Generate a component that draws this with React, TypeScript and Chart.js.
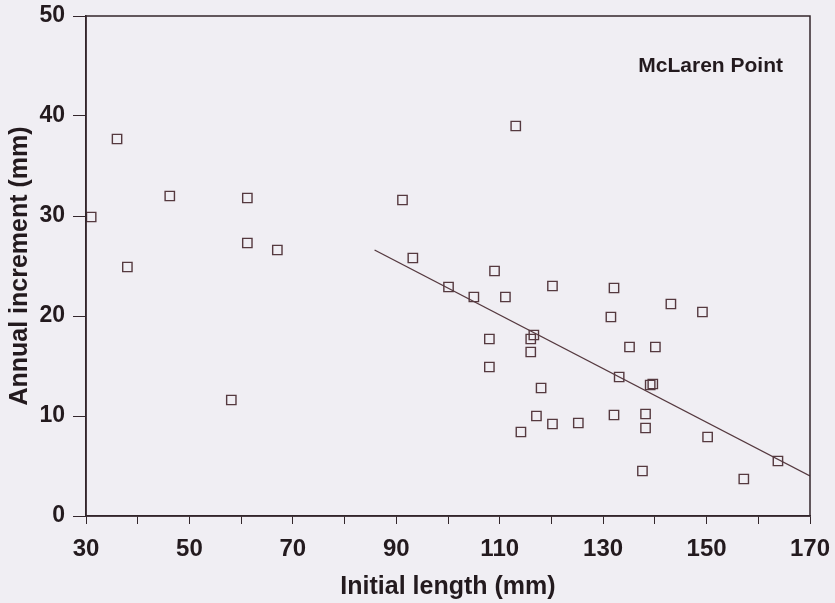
import React, { useEffect, useRef } from "react";
import { Chart, registerables } from "chart.js";

Chart.register(...registerables);

const initialLength = [
  31.0, 36.0, 38.0, 46.2, 61.2, 61.2, 67.0, 58.1, 91.2, 93.2, 113.1,
  100.1, 105.0, 111.1, 109.0, 120.2, 132.1, 131.5, 143.1, 149.2,
  108.0, 116.0, 116.6, 116.0, 108.0, 135.1, 140.1, 118.0, 133.1,
  139.1, 139.6, 117.1, 120.2, 125.2, 132.1, 138.2, 138.2, 114.1,
  150.2, 137.6, 157.2, 163.8,
];
const annualIncrement = [
  29.9, 37.7, 24.9, 32.0, 31.8, 27.3, 26.6, 11.6, 31.6, 25.8, 39.0,
  22.9, 21.9, 21.9, 24.5, 23.0, 22.8, 19.9, 21.2, 20.4,
  17.7, 17.7, 18.1, 16.4, 14.9, 16.9, 16.9, 12.8, 13.9,
  13.1, 13.2, 10.0, 9.2, 9.3, 10.1, 10.2, 8.8, 8.4,
  7.9, 4.5, 3.7, 5.5,
];
const fitX = [85.8, 170];
const fitY = [26.6, 4.0];
const xTickLabels = [30, 50, 70, 90, 110, 130, 150, 170];
const siteLabel = "McLaren Point";

const INK = "#33262b";
const MARK = "#55393f";
const BG = "#f0eef3";
const FONT = "'Liberation Sans', Arial, sans-serif";

export default function App() {
  const ref = useRef<HTMLCanvasElement | null>(null);

  useEffect(() => {
    document.body.style.margin = "0";
    document.body.style.background = BG;
    const canvas = ref.current;
    if (!canvas) return;

    const framePlugin = {
      id: "frame",
      afterDraw(chart: any) {
        const { ctx, chartArea } = chart;
        ctx.save();
        ctx.strokeStyle = INK;
        ctx.lineWidth = 1.5;
        ctx.strokeRect(chartArea.left, chartArea.top, chartArea.right - chartArea.left, chartArea.bottom - chartArea.top);
        ctx.fillStyle = "#231a1e";
        ctx.font = "bold 21px " + FONT;
        ctx.textAlign = "right";
        ctx.textBaseline = "middle";
        ctx.fillText(siteLabel, chartArea.right - 27, chartArea.top + 50);
        ctx.restore();
      },
    };

    const chart = new Chart(canvas, {
      type: "scatter",
      data: {
        datasets: [
          {
            label: "data",
            data: initialLength.map((x, i) => ({ x, y: annualIncrement[i] })),
            pointStyle: "rect",
            pointRadius: 6.6,
            pointBorderWidth: 1.4,
            pointBackgroundColor: "rgba(0,0,0,0)",
            pointBorderColor: MARK,
            showLine: false,
          },
          {
            label: "fit",
            type: "line",
            data: fitX.map((x, i) => ({ x, y: fitY[i] })),
            borderColor: MARK,
            borderWidth: 1.4,
            pointRadius: 0,
            fill: false,
          },
        ],
      },
      options: {
        animation: false,
        responsive: false,
        devicePixelRatio: 1,
        layout: { padding: { top: 16, right: 25, left: 0, bottom: 0 } },
        plugins: {
          legend: { display: false },
          tooltip: { enabled: false },
        },
        scales: {
          x: {
            type: "linear",
            min: 30,
            max: 170,
            afterFit: (s: any) => {
              s.height = 87;
              s.paddingLeft = 0;
              s.paddingRight = 0;
            },
            ticks: {
              stepSize: 10,
              autoSkip: false,
              maxRotation: 0,
              padding: 11,
              color: "#231a1e",
              font: { family: FONT, size: 24, weight: "bold" },
              callback: (v: any) => (xTickLabels.includes(Number(v)) ? String(v) : ""),
            },
            grid: { drawOnChartArea: false, drawTicks: true, tickLength: 8, color: INK, tickWidth: 1 },
            border: { display: true, color: INK, width: 1.5 },
            title: {
              display: true,
              text: "Initial length (mm)",
              color: "#231a1e",
              font: { family: FONT, size: 25, weight: "bold" },
              padding: { top: 0, bottom: 1 },
            },
          },
          y: {
            type: "linear",
            min: 0,
            max: 50,
            afterFit: (s: any) => {
              s.width = 86;
              s.paddingTop = 0;
              s.paddingBottom = 0;
            },
            ticks: {
              stepSize: 10,
              padding: 8,
              color: "#231a1e",
              font: { family: FONT, size: 23, weight: "bold" },
            },
            grid: { drawOnChartArea: false, drawTicks: true, tickLength: 13, color: INK, tickWidth: 1 },
            border: { display: true, color: INK, width: 1.5 },
            title: {
              display: true,
              text: "Annual increment (mm)",
              color: "#231a1e",
              font: { family: FONT, size: 25, weight: "bold" },
              padding: { top: 5, bottom: 0 },
            },
          },
        },
      },
      plugins: [framePlugin],
    });

    return () => chart.destroy();
  }, []);

  return (
    <div style={{ width: 835, height: 603, background: BG }}>
      <canvas ref={ref} width={835} height={603} style={{ display: "block" }} />
    </div>
  );
}
